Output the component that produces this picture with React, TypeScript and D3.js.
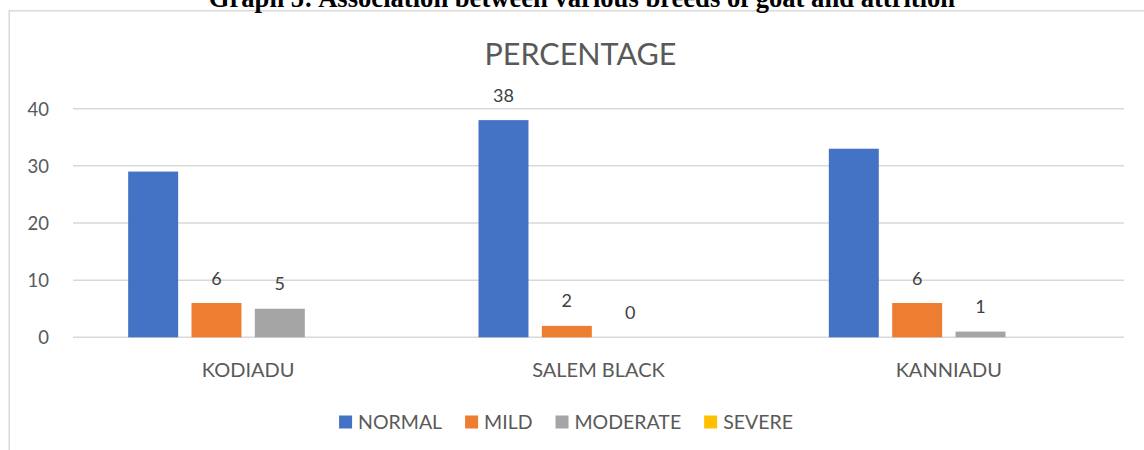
import React from "react";
import * as d3 from "d3";

const categories = ["KODIADU", "SALEM BLACK", "KANNIADU"];
const seriesNames = ["NORMAL", "MILD", "MODERATE", "SEVERE"];
const normalValues = [29, 38, 33];
const mildValues = [6, 2, 6];
const moderateValues = [5, 0, 1];
const severeValues = [0, 0, 0];
const normalLabelShown = [false, true, false];
const mildLabelShown = [true, true, true];
const moderateLabelShown = [true, true, true];
const severeLabelShown = [false, false, false];
const yTicks = [0, 10, 20, 30, 40];
const colors = ["#4472C4", "#ED7D31", "#A5A5A5", "#FFC000"];
const pageTitle = "Graph 5: Association between various breeds of goat and attrition";
const chartTitle = "PERCENTAGE";

const W = 1144;
const H = 450;
const FONT = "Lato, 'Open Sans', sans-serif";

function measure(text: string, font: string): number {
  if (typeof document === "undefined") return text.length * 10;
  const c = document.createElement("canvas");
  const ctx = c.getContext("2d");
  if (!ctx) return text.length * 10;
  ctx.font = font;
  return ctx.measureText(text).width;
}

export default function App() {
  const values = [normalValues, mildValues, moderateValues, severeValues];
  const shown = [normalLabelShown, mildLabelShown, moderateLabelShown, severeLabelShown];

  const plotLeft = 73;
  const plotRight = 1124;
  const y = d3.scaleLinear().domain([0, 40]).range([337.3, 108.7]);
  const x0 = d3.scaleBand<string>().domain(categories).range([plotLeft, plotRight]).padding(0);
  const groupW = 240;
  const x1 = d3
    .scaleBand<string>()
    .domain(seriesNames)
    .range([0, groupW])
    .paddingInner(0.211)
    .paddingOuter(0);

  // legend layout
  const legendSize = 19.5;
  const legendFont = `${legendSize}px Lato`;
  const sq = 13;
  const textGap = 6;
  const itemGap = 23;
  const widths = seriesNames.map((s) => measure(s, legendFont));
  const total =
    widths.reduce((a, b) => a + b, 0) + seriesNames.length * (sq + textGap) + itemGap * (seriesNames.length - 1);
  let lx = 566 - total / 2;
  const legendItems = seriesNames.map((s, i) => {
    const item = { name: s, x: lx, color: colors[i] };
    lx += sq + textGap + widths[i] + itemGap;
    return item;
  });

  return (
    <svg
      width={W}
      height={H}
      style={{ position: "absolute", left: 0, top: 0, background: "#fff" }}
    >
      <rect x={0} y={0} width={W} height={H} fill="#fff" />
      {/* chart border */}
      <rect x={9.25} y={10.75} width={1150} height={460} fill="none" stroke="#d9d9d9" strokeWidth={1.5} />
      {/* page caption (clipped at top, as in the source) */}
      <text
        x={582}
        y={7}
        textAnchor="middle"
        fontFamily="'Liberation Serif', 'Times New Roman', serif"
        fontWeight="bold"
        fontSize={26.6}
        fill="#000"
      >
        {pageTitle}
      </text>
      {/* chart title */}
      <text x={580.5} y={65} textAnchor="middle" fontFamily={FONT} fontSize={30.5} fill="#595959">
        {chartTitle}
      </text>
      {/* gridlines + y ticks */}
      {yTicks.map((t) => (
        <g key={t}>
          <line x1={plotLeft} x2={plotRight} y1={y(t)} y2={y(t)} stroke="#d9d9d9" strokeWidth={1.5} />
          <text x={49} y={y(t) + 6.8} textAnchor="end" fontFamily={FONT} fontSize={18.5} fill="#595959">
            {t}
          </text>
        </g>
      ))}
      {/* bars */}
      {categories.map((c, ci) => {
        const gx = (x0(c) as number) + (x0.bandwidth() - groupW) / 2;
        return (
          <g key={c}>
            {seriesNames.map((s, si) => {
              const v = values[si][ci];
              const bx = gx + (x1(s) as number);
              const bw = x1.bandwidth();
              return (
                <g key={s}>
                  {v > 0 && (
                    <rect x={bx} y={y(v)} width={bw} height={y(0) - y(v)} fill={colors[si]} />
                  )}
                  {shown[si][ci] && (
                    <text
                      x={bx + bw / 2}
                      y={y(v) - 18.5}
                      textAnchor="middle"
                      fontFamily={FONT}
                      fontSize={18}
                      fill="#404040"
                    >
                      {v}
                    </text>
                  )}
                </g>
              );
            })}
            <text
              x={(x0(c) as number) + x0.bandwidth() / 2}
              y={377}
              textAnchor="middle"
              fontFamily={FONT}
              fontSize={20}
              fill="#595959"
            >
              {c}
            </text>
          </g>
        );
      })}
      {/* legend */}
      {legendItems.map((it) => (
        <g key={it.name}>
          <rect x={it.x} y={415.5} width={sq} height={sq} fill={it.color} />
          <text x={it.x + sq + textGap} y={428.7} fontFamily={FONT} fontSize={legendSize} fill="#595959">
            {it.name}
          </text>
        </g>
      ))}
    </svg>
  );
}
